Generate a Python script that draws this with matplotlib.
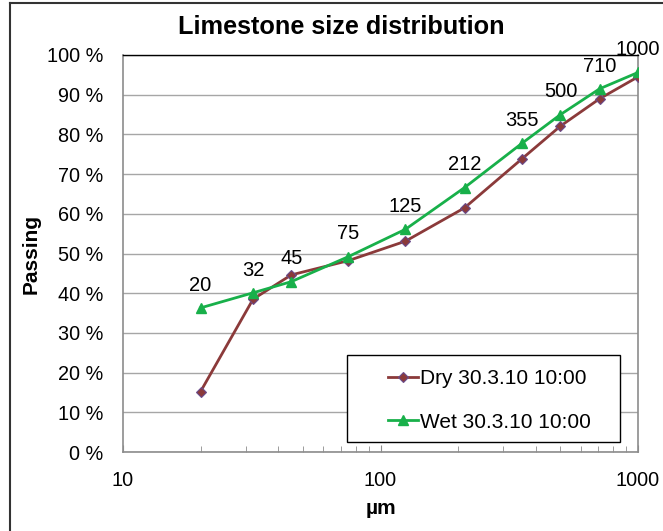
import matplotlib
matplotlib.use("Agg")
import matplotlib.pyplot as plt
from matplotlib.ticker import FixedLocator, LogLocator, NullFormatter, FuncFormatter
from matplotlib.lines import Line2D
from matplotlib.patches import Rectangle

plt.rcParams['font.family'] = ['Liberation Sans', 'DejaVu Sans']

# Sieve sizes (µm) and cumulative passing (%)
sizes = [20, 32, 45, 75, 125, 212, 355, 500, 710, 1000]
size_labels = ["20", "32", "45", "75", "125", "212", "355", "500", "710", "1000"]
dry = [15.2, 38.5, 44.6, 48.2, 53.1, 61.5, 73.9, 82.1, 89.0, 94.5]
wet = [36.3, 40.1, 42.9, 49.2, 56.1, 66.6, 77.8, 85.0, 91.5, 95.6]
y_ticks = [0, 10, 20, 30, 40, 50, 60, 70, 80, 90, 100]
x_ticks = [10, 100, 1000]

W, H = 663, 531
fig = plt.figure(figsize=(W / 100, H / 100), dpi=100)
ax = fig.add_axes([123 / W, 1 - 452 / H, (638 - 123) / W, (452 - 55) / H])

ax.plot(sizes, dry, color="#8B3A3A", lw=2, marker="D", ms=5.5,
        mfc="#8B3A3A", mec="#6A4C8C", mew=0.8, label="Dry 30.3.10 10:00", zorder=3)
ax.plot(sizes, wet, color="#18B04A", lw=2, marker="^", ms=7,
        mfc="#18B04A", mec="#18B04A", label="Wet 30.3.10 10:00", zorder=3)

for x, y, s in zip(sizes, wet, size_labels):
    ax.annotate(s, (x, y), xytext=(0, 9.5), textcoords="offset points",
                ha="center", va="bottom", fontsize=14.5, color="black")

ax.set_xscale("log")
ax.set_xlim(10, 1000)
ax.set_ylim(0, 100)
ax.xaxis.set_major_locator(FixedLocator(x_ticks))
ax.xaxis.set_major_formatter(FuncFormatter(lambda v, p: f"{int(round(v))}"))
ax.xaxis.set_minor_locator(LogLocator(base=10, subs=range(2, 10)))
ax.xaxis.set_minor_formatter(NullFormatter())
ax.set_yticks(y_ticks)
ax.set_yticklabels([f"{v} %" for v in y_ticks])

ax.grid(axis="y", color="#A6A6A6", lw=1)
ax.set_axisbelow(True)
for side in ["left", "bottom", "right"]:
    ax.spines[side].set_color("#8C8C8C")
    ax.spines[side].set_linewidth(1.2)
ax.spines["top"].set_color("black")
ax.spines["top"].set_linewidth(1)

ax.tick_params(axis="x", which="major", direction="in", length=5, color="#8C8C8C",
               labelsize=14.3, pad=14)
ax.tick_params(axis="x", which="minor", direction="in", length=4, color="#8C8C8C")
ax.tick_params(axis="y", which="major", length=0, labelsize=14.3, pad=14)

ax.set_xlabel("µm", fontsize=15, fontweight="bold", labelpad=6)
ax.set_ylabel("Passing", fontsize=15, fontweight="bold", labelpad=5)
fig.text(341 / W, 1 - 27 / H, "Limestone size distribution", ha="center", va="center",
         fontsize=18.2, fontweight="bold")

# legend box with entries placed inside
fig.add_artist(Rectangle((347 / W, 1 - 442 / H), (620 - 347) / W, (442 - 355) / H,
                         transform=fig.transFigure, fill=True, facecolor="white",
                         edgecolor="black", lw=1, zorder=4))
leg = fig.legend(*ax.get_legend_handles_labels(), loc="center left",
                 bbox_to_anchor=(388 / W, 1 - 400.5 / H), bbox_transform=fig.transFigure,
                 frameon=False, fontsize=15, handlelength=1.45,
                 handletextpad=0.1, labelspacing=1.18, borderpad=0, borderaxespad=0)
leg.set_zorder(5)

# outer frame of the chart area
fig.add_artist(Line2D([10 / W, 10 / W], [0, 1 - 3 / H], color="#333333", lw=1.5,
                      transform=fig.transFigure))
fig.add_artist(Line2D([10 / W, 1], [1 - 3 / H, 1 - 3 / H], color="#333333", lw=1.5,
                      transform=fig.transFigure))

fig.savefig("out.png", dpi=100)
